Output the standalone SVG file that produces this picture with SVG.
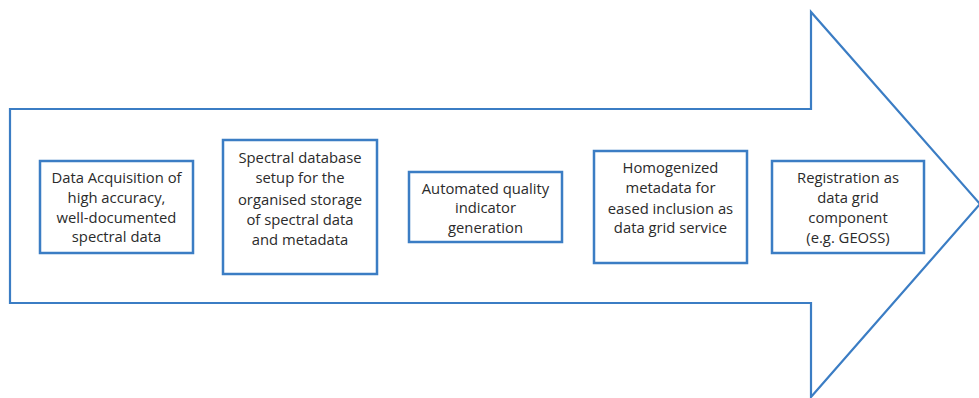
<svg xmlns="http://www.w3.org/2000/svg" width="979" height="398" viewBox="0 0 979 398">
<style>
.box{fill:#fff;stroke:#3b7dc4;stroke-width:2.5}
.arrow{fill:#fff;stroke:#3b7dc4;stroke-width:2.2;stroke-linejoin:miter}
text{font-family:"Open Sans","Noto Sans",sans-serif;font-size:14.8px;fill:#2b2b2b;text-anchor:middle}
</style>
<rect width="979" height="398" fill="#fff"/>
<g id="arrow">
<path class="arrow" d="M10,109 L811,109 L811,12 L980,204 L811,397 L811,303 L10,303 Z"/>
</g>
<g id="connectors"></g>
<g id="n1">
<rect class="box" x="40" y="161" width="153" height="92"/>
<text x="116.5" y="183">Data Acquisition of</text>
<text x="116.5" y="203">high accuracy,</text>
<text x="116.5" y="223">well-documented</text>
<text x="116.5" y="242">spectral data</text>
</g>
<g id="n2">
<rect class="box" x="223" y="140" width="154" height="134"/>
<text x="300" y="163">Spectral database</text>
<text x="300" y="183">setup for the</text>
<text x="300" y="205">organised storage</text>
<text x="300" y="225">of spectral data</text>
<text x="300" y="245">and metadata</text>
</g>
<g id="n3">
<rect class="box" x="409" y="172" width="153" height="70"/>
<text x="485.5" y="194">Automated quality</text>
<text x="485.5" y="213">indicator</text>
<text x="485.5" y="233">generation</text>
</g>
<g id="n4">
<rect class="box" x="594" y="151" width="153" height="112"/>
<text x="670.5" y="173">Homogenized</text>
<text x="670.5" y="193">metadata for</text>
<text x="670.5" y="214">eased inclusion as</text>
<text x="670.5" y="233">data grid service</text>
</g>
<g id="n5">
<rect class="box" x="772" y="161" width="152" height="92"/>
<text x="848" y="183">Registration as</text>
<text x="848" y="203">data grid</text>
<text x="848" y="223">component</text>
<text x="848" y="243">(e.g. GEOSS)</text>
</g>
</svg>
